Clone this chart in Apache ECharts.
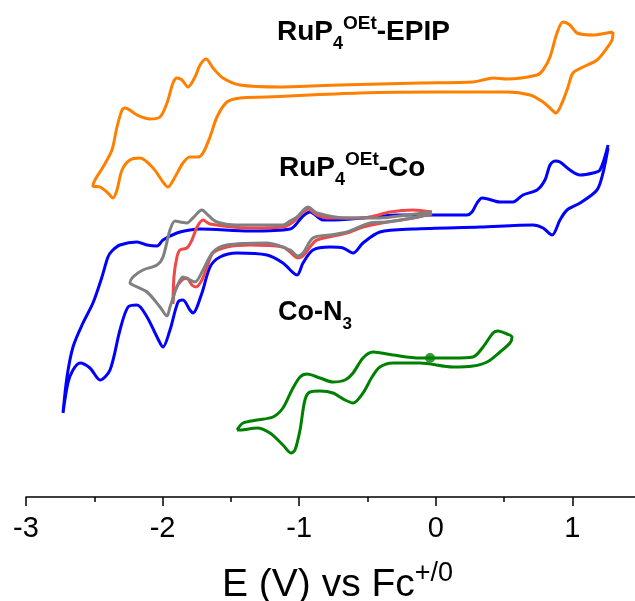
<!DOCTYPE html>
<html><head><meta charset="utf-8">
<script src="https://cdn.jsdelivr.net/npm/echarts@6/dist/echarts.min.js"></script>
<style>html,body{margin:0;padding:0;background:#fff}#c{width:635px;height:601px}</style>
</head><body><div id="c"></div>
<script>
// E (V vs Fc+/0), current (arbitrary units, stacked offsets; larger = lower on page)
const xTickLabels = ['-3', '-2', '-1', '0', '1'];

const orangeEPIP = [
[1.297,32],[1.290,40],[1.253,48],[1.180,60],[1.078,67],[1.004,73],[0.968,87],[0.924,103],[0.880,113],[0.836,108],[0.785,102],[0.690,95],[0.521,92],[0.031,92],[-0.555,93],[-1.236,97],[-1.433,98],[-1.529,102],[-1.602,117],[-1.653,137],[-1.704,153],[-1.741,157],[-1.800,157],[-1.851,163],[-1.909,177],[-1.961,187],[-1.997,182],[-2.070,168],[-2.166,158],[-2.239,160],[-2.297,170],[-2.334,190],[-2.363,198],[-2.400,193],[-2.458,187],[-2.510,186],[-2.495,180],[-2.436,167],[-2.371,150],[-2.334,127],[-2.297,110],[-2.275,108],[-2.187,115],[-2.092,119],[-2.019,117],[-1.968,103],[-1.924,83],[-1.895,78],[-1.858,80],[-1.814,87],[-1.763,77],[-1.726,65],[-1.682,59],[-1.631,68],[-1.558,78],[-1.433,85],[-1.141,87],[-0.701,85],[-0.116,83],[0.272,82],[0.375,79],[0.419,78],[0.521,79],[0.741,75],[0.785,70],[0.836,57],[0.887,33],[0.931,22],[0.982,25],[1.034,33],[1.151,35],[1.253,33],[1.297,32]
];

const blueCo = [
[1.261,145],[1.202,170],[1.151,173],[1.056,175],[0.982,170],[0.909,162],[0.873,161],[0.836,165],[0.799,180],[0.741,190],[0.638,195],[0.565,202],[0.470,202],[0.382,199],[0.338,198],[0.302,203],[0.265,212],[0.228,215],[-0.020,215],[-0.284,215],[-0.533,218],[-0.775,220],[-0.826,220],[-0.921,212],[-0.972,216],[-1.067,229],[-1.360,231],[-1.726,229],[-1.800,230],[-1.895,233],[-1.997,240],[-2.041,246],[-2.114,245],[-2.187,242],[-2.312,245],[-2.371,251],[-2.400,257],[-2.444,277],[-2.510,303],[-2.583,323],[-2.656,347],[-2.700,377],[-2.729,413],
[-2.693,383],[-2.656,370],[-2.605,363],[-2.532,368],[-2.458,380],[-2.385,370],[-2.312,330],[-2.253,307],[-2.187,305],[-2.114,317],[-2.041,337],[-1.997,347],[-1.946,330],[-1.887,302],[-1.851,300],[-1.800,310],[-1.778,313],[-1.712,293],[-1.653,267],[-1.580,257],[-1.455,253],[-1.236,255],[-1.119,263],[-1.016,275],[-0.972,263],[-0.899,250],[-0.775,247],[-0.679,248],[-0.606,253],[-0.533,243],[-0.409,232],[-0.167,229],[0.324,227],[0.712,225],[0.785,228],[0.851,235],[0.909,220],[0.961,210],[1.056,203],[1.180,190],[1.224,173],[1.261,148]
];

const redCo = [
[-0.028,212],[-0.167,210],[-0.335,212],[-0.482,217],[-0.606,218],[-0.775,218],[-0.870,215],[-0.936,209],[-0.972,212],[-1.045,222],[-1.119,227],[-1.360,228],[-1.653,224],[-1.704,220],[-1.748,227],[-1.785,240],[-1.822,248],[-1.873,250],[-1.895,257],[-1.917,277],[-1.924,304],
[-1.909,290],[-1.858,280],[-1.822,278],[-1.785,285],[-1.756,287],[-1.712,280],[-1.675,267],[-1.631,253],[-1.529,247],[-1.360,245],[-1.119,247],[-1.067,252],[-1.009,258],[-0.972,256],[-0.921,247],[-0.870,240],[-0.650,233],[-0.533,227],[-0.357,222],[-0.167,218],[-0.028,214]
];

const grayCo = [
[-0.028,212],[-0.211,215],[-0.409,218],[-0.650,218],[-0.870,213],[-0.936,207],[-1.016,217],[-1.067,221],[-1.119,225],[-1.455,225],[-1.602,222],[-1.668,215],[-1.712,210],[-1.778,218],[-1.822,223],[-1.873,222],[-1.909,221],[-1.946,230],[-1.997,257],[-2.041,265],[-2.144,270],[-2.217,277],[-2.239,283],
[-2.217,285],[-2.114,292],[-2.019,307],[-1.968,316],[-1.946,307],[-1.895,287],[-1.851,277],[-1.800,280],[-1.763,282],[-1.704,270],[-1.631,252],[-1.529,245],[-1.236,243],[-1.067,250],[-1.009,256],[-0.972,253],[-0.899,238],[-0.775,235],[-0.650,232],[-0.482,223],[-0.357,222],[-0.167,218],[-0.028,213]
];

const greenCoN3 = [
[-1.455,430],[-1.411,423],[-1.309,420],[-1.192,417],[-1.119,408],[-1.053,390],[-0.994,377],[-0.943,374],[-0.848,378],[-0.753,382],[-0.665,380],[-0.606,373],[-0.533,358],[-0.460,352],[-0.313,355],[-0.116,358],[0.126,358],[0.272,357],[0.346,347],[0.419,333],[0.455,331],[0.521,334],[0.558,337],
[0.543,343],[0.470,352],[0.375,362],[0.272,366],[0.126,367],[-0.116,363],[-0.313,363],[-0.409,367],[-0.467,377],[-0.533,393],[-0.606,403],[-0.665,400],[-0.753,393],[-0.848,391],[-0.921,392],[-0.958,400],[-0.994,430],[-1.031,450],[-1.060,453],[-1.119,445],[-1.214,433],[-1.309,428],[-1.433,430],[-1.455,430]
];

const greenStart = [[-0.042,358]];

const FONT = '"Liberation Sans", Arial, sans-serif';
const cv = document.createElement('canvas').getContext('2d');
function tw(t, size, bold) { cv.font = (bold ? 'bold ' : '') + size + 'px ' + FONT; return cv.measureText(t).width; }
// parts: [text, size, baseline, bold]
function richLine(x, parts) {
  const els = []; let cx = x;
  for (const p of parts) {
    const [t, s, base, b] = p;
    els.push({ type: 'text', x: cx, y: base - 0.81 * s, silent: true,
      style: { text: t, fill: '#000', font: (b ? 'bold ' : '') + s + 'px ' + FONT, textAlign: 'left', textVerticalAlign: 'top', verticalAlign: 'top' } });
    cx += tw(t, s, b);
  }
  return els;
}

const graphics = [].concat(
  richLine(277, [['RuP', 28, 41, true], ['4', 18, 50, true], ['OEt', 19, 30, true], ['-EPIP', 28, 41, true]]),
  richLine(279, [['RuP', 28, 177, true], ['4', 18, 186, true], ['OEt', 19, 166, true], ['-Co', 28, 177, true]]),
  richLine(278, [['Co-N', 27, 321, true], ['3', 17, 330, true]]),
  richLine(222, [['E (V) vs Fc', 39, 597, false], ['+/0', 27, 582, false]])
);

function lineSeries(name, data, color, z) {
  return { name, type: 'line', data, xAxisIndex: 0, yAxisIndex: 0, showSymbol: false, symbol: 'none',
    smooth: 0.3, lineStyle: { color, width: 3 }, z, animation: false };
}

const chart = echarts.init(document.getElementById('c'), null, { renderer: 'canvas' });
chart.setOption({
  animation: false,
  backgroundColor: '#fff',
  grid: { left: 26, top: 0, width: 614.7, height: 497, containLabel: false, outerBoundsMode: 'none' },
  xAxis: [
    { type: 'value', min: -3, max: 1.5, interval: 1, position: 'bottom',
      axisLine: { show: true, onZero: false, lineStyle: { color: '#000', width: 1.5 } },
      axisTick: { show: true, length: 9, lineStyle: { color: '#000', width: 1.5 } },
      axisLabel: { show: true, margin: 17, color: '#000', fontSize: 29, fontFamily: FONT,
        formatter: v => { const i = xTickLabels.indexOf(String(v)); return i >= 0 ? xTickLabels[i] : ''; } },
      splitLine: { show: false } },
    { type: 'value', min: -3, max: 1.5, interval: 0.5, position: 'bottom',
      axisLine: { show: false, onZero: false },
      axisTick: { show: true, length: 5, lineStyle: { color: '#000', width: 1.5 } },
      axisLabel: { show: false }, splitLine: { show: false } }
  ],
  yAxis: { type: 'value', min: 0, max: 497, inverse: true, show: false },
  series: [
    lineSeries('RuP4OEt-EPIP', orangeEPIP, '#FF8000', 2),
    lineSeries('RuP4OEt-Co (blue)', blueCo, '#0000FF', 3),
    lineSeries('RuP4OEt-Co (red)', redCo, '#F04848', 4),
    lineSeries('RuP4OEt-Co (gray)', grayCo, '#808080', 5),
    lineSeries('Co-N3', greenCoN3, '#008000', 6),
    { type: 'scatter', data: greenStart, symbolSize: 10, itemStyle: { color: '#008000' }, z: 7, animation: false }
  ],
  graphic: graphics
});
</script></body></html>
